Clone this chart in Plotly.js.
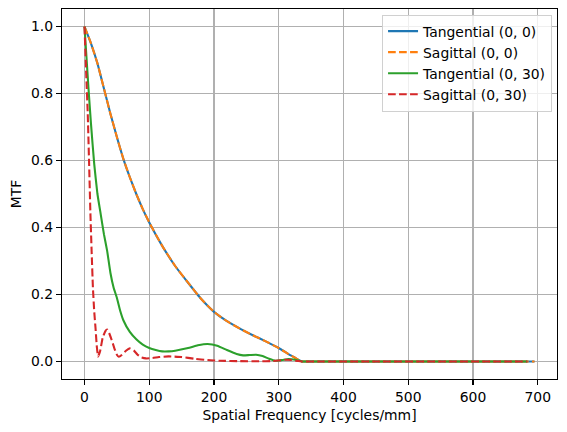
<!DOCTYPE html>
<html>
<head>
<meta charset="utf-8">
<script src="https://cdn.plot.ly/plotly-3.0.1.min.js"></script>
<style>html,body{margin:0;padding:0;background:#fff;}#chart{width:567px;height:432px;}</style>
</head>
<body>
<div id="chart"></div>
<script>
// On-axis (0, 0): tangential and sagittal coincide
const freqOnAxis = [0, 10, 20, 30, 40, 50, 60, 70, 80, 90, 100, 120, 140, 160, 180, 200, 220, 240, 260, 280, 300, 315, 325, 332, 336, 342, 360, 450, 550, 650, 695];
const tanOnAxis  = [1.0, 0.95, 0.89, 0.815, 0.74, 0.67, 0.605, 0.55, 0.50, 0.455, 0.415, 0.345, 0.285, 0.235, 0.187, 0.148, 0.12, 0.098, 0.078, 0.06, 0.04, 0.022, 0.011, 0.003, 0.0, 0.0, 0.0, 0.0, 0.0, 0.0, 0.0];
const sagOnAxis  = [1.0, 0.95, 0.89, 0.815, 0.74, 0.67, 0.605, 0.55, 0.50, 0.455, 0.415, 0.345, 0.285, 0.235, 0.187, 0.148, 0.12, 0.098, 0.078, 0.06, 0.04, 0.022, 0.011, 0.003, 0.0, 0.0, 0.0, 0.0, 0.0, 0.0, 0.0];

// Off-axis (0, 30)
const freqTan30 = [0, 3, 6, 10, 15, 20, 25, 30, 35, 40, 45, 50, 55, 60, 70, 80, 90, 100, 110, 120, 130, 140, 160, 175, 190, 205, 220, 235, 245, 255, 265, 275, 285, 295, 305, 315, 325, 333, 336, 342, 360, 450, 550, 650, 684];
const tan30     = [1.0, 0.91, 0.82, 0.71, 0.59, 0.50, 0.44, 0.38, 0.33, 0.265, 0.22, 0.19, 0.152, 0.123, 0.088, 0.066, 0.05, 0.04, 0.034, 0.03, 0.03, 0.032, 0.04, 0.048, 0.052, 0.047, 0.034, 0.022, 0.018, 0.019, 0.02, 0.016, 0.008, 0.002, 0.004, 0.007, 0.005, 0.001, 0.0, 0.0, 0.0, 0.0, 0.0, 0.0, 0.0];

const freqSag30 = [0, 3, 5, 7, 9, 11, 13, 15, 17, 19, 21, 24, 28, 32, 35, 38, 42, 46, 50, 53, 58, 64, 70, 76, 82, 88, 95, 105, 115, 130, 150, 170, 190, 210, 240, 270, 290, 300, 310, 320, 330, 336, 342, 360, 450, 550, 650, 684];
const sag30     = [1.0, 0.84, 0.74, 0.60, 0.45, 0.33, 0.22, 0.15, 0.10, 0.045, 0.015, 0.03, 0.07, 0.09, 0.095, 0.085, 0.064, 0.04, 0.02, 0.014, 0.02, 0.032, 0.039, 0.033, 0.02, 0.012, 0.009, 0.01, 0.013, 0.015, 0.013, 0.008, 0.004, 0.002, 0.0008, 0.0003, 0.001, 0.003, 0.005, 0.004, 0.001, 0.0, 0.0, 0.0, 0.0, 0.0, 0.0, 0.0];

const seriesNames = ["Tangential (0, 0)", "Sagittal (0, 0)", "Tangential (0, 30)", "Sagittal (0, 30)"];
const xTicks = [0, 100, 200, 300, 400, 500, 600, 700];
const yTicks = [0.0, 0.2, 0.4, 0.6, 0.8, 1.0];

const lw = 2.08;
const dash = "7.7px,3.3px";
const sm = 0.4;
const traces = [
  {x: freqOnAxis, y: tanOnAxis, name: seriesNames[0], mode: "lines", line: {color: "#1f77b4", width: lw, shape: "spline", smoothing: sm}},
  {x: freqOnAxis, y: sagOnAxis, name: seriesNames[1], mode: "lines", line: {color: "#ff7f0e", width: lw, dash: dash, shape: "spline", smoothing: sm}},
  {x: freqTan30, y: tan30, name: seriesNames[2], mode: "lines", line: {color: "#2ca02c", width: lw, shape: "spline", smoothing: sm}},
  {x: freqSag30, y: sag30, name: seriesNames[3], mode: "lines", line: {color: "#d62728", width: lw, dash: dash, shape: "spline", smoothing: sm}}
];

const fam = "'DejaVu Sans', 'Verdana', sans-serif";
const font = {family: fam, size: 13.9, color: "#000"};
const layout = {
  width: 567, height: 432,
  margin: {l: 62, r: 10, t: 9, b: 53},
  paper_bgcolor: "#fff", plot_bgcolor: "#fff",
  font: font,
  showlegend: true,
  legend: {x: 0.99, y: 0.985, xanchor: "right", yanchor: "top", bgcolor: "rgba(255,255,255,0.8)", bordercolor: "#d0d0d0", borderwidth: 1, font: font, tracegroupgap: 0, itemwidth: 30},
  xaxis: {
    range: [-34.75, 729.75], tickvals: xTicks, ticktext: xTicks.map(String),
    showgrid: true, gridcolor: "#b0b0b0", gridwidth: 1.1, zeroline: false,
    showline: true, linecolor: "#000", linewidth: 1.1, mirror: true,
    ticks: "outside", ticklen: 5, tickcolor: "#000", tickwidth: 1.1,
    tickfont: font,
    title: {text: "Spatial Frequency [cycles/mm]", font: font, standoff: 6}
  },
  yaxis: {
    range: [-0.0525, 1.0525], tickvals: yTicks, ticktext: yTicks.map(v => v.toFixed(1)),
    showgrid: true, gridcolor: "#b0b0b0", gridwidth: 1.1, zeroline: false,
    showline: true, linecolor: "#000", linewidth: 1.1, mirror: true,
    ticks: "outside", ticklen: 5, tickcolor: "#000", tickwidth: 1.1,
    tickfont: font,
    title: {text: "MTF", font: font, standoff: 6}
  }
};
Plotly.newPlot("chart", traces, layout, {staticPlot: true, displayModeBar: false});
</script>
</body>
</html>
